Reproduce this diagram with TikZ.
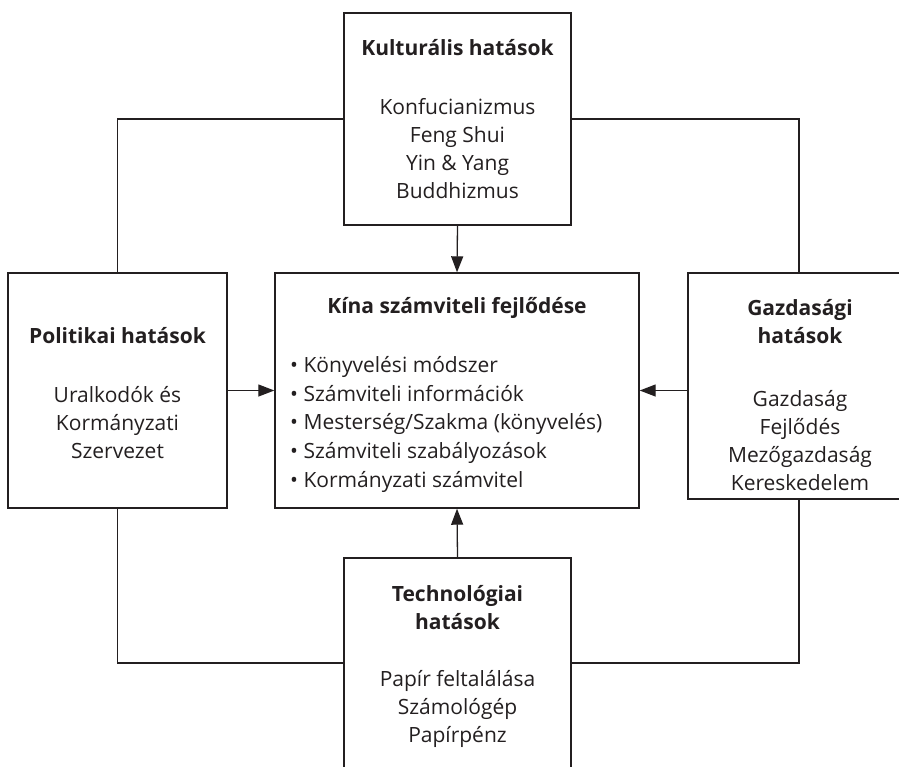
\documentclass[tikz,border=0pt]{standalone}
\usepackage{fontspec}
\setmainfont{Open Sans}
\usetikzlibrary{arrows.meta,calc}
\definecolor{ink}{HTML}{231F20}
\tikzset{
  box/.style={draw=ink, line width=1.4pt, rectangle, inner sep=0pt},
  conn/.style={draw=ink, line width=1.3pt},
  arr/.style={conn, -{Triangle[length=16pt,width=12pt]}},
  ttl/.style={font=\fontsize{21}{28}\selectfont\bfseries, text=ink, align=center, inner sep=0pt},
  lst/.style={font=\fontsize{21}{28}\selectfont, text=ink, align=center, inner sep=0pt},
  clst/.style={font=\fontsize{21}{28.6}\selectfont, text=ink, align=left, inner sep=0pt},
}
\begin{document}
\begin{tikzpicture}[x=1pt,y=-1pt]
\useasboundingbox (0,0) rectangle (899,766);
\begin{scope}
\clip (0,0) rectangle (899,766);
\node[box, minimum width=227pt, minimum height=212pt] (top) at (457.5,119) {};
\node[box, minimum width=219pt, minimum height=235pt] (left) at (117.5,390.5) {};
\node[box, minimum width=364pt, minimum height=235pt] (center) at (457,390.5) {};
\node[box, minimum width=222pt, minimum height=226pt] (right) at (799,386) {};
\node[box, minimum width=227pt, minimum height=210pt] (bot) at (457.5,663) {};
\end{scope}
% texts (base anchor = baseline of the last line)
\node[ttl, anchor=base] (ttop) at (457.5,55) {Kulturális hatások};
\node[lst, anchor=base] (ltop) at (457.5,198) {Konfucianizmus\\Feng Shui\\Yin \& Yang\\Buddhizmus};
\node[ttl, anchor=base] (tleft) at (117.5,343) {Politikai hatások};
\node[lst, anchor=base] (lleft) at (117.5,458) {Uralkodók és\\Kormányzati\\Szervezet};
\node[ttl, anchor=base] (tcenter) at (457,313) {Kína számviteli fejlődése};
\node[clst, anchor=base west] (lcenter) at (290,487) {• Könyvelési módszer\\• Számviteli információk\\• Mesterség/Szakma (könyvelés)\\• Számviteli szabályozások\\• Kormányzati számvitel};
\node[ttl, anchor=base] (tright) at (800,343) {Gazdasági\\hatások};
\node[lst, anchor=base] (lright) at (800,490) {Gazdaság\\Fejlődés\\Mezőgazdaság\\Kereskedelem};
\node[ttl, anchor=base] (tbot) at (457.5,629) {Technológiai\\hatások};
\node[lst, anchor=base] (lbot) at (457.5,742) {Papír feltalálása\\Számológép\\Papírpénz};
% connectors
\draw[conn] (top.west) -| (left.north);
\draw[conn] (top.east) -| (right.north);
\draw[conn] (left.south) |- (bot.west);
\draw[conn] (right.south) |- (bot.east);
\draw[arr] (top.south) -- (center.north);
\draw[arr] (left.east) -- (center.west);
\draw[arr] (right.west |- center.east) -- (center.east);
\draw[arr] (bot.north) -- (center.south);
\end{tikzpicture}
\end{document}
